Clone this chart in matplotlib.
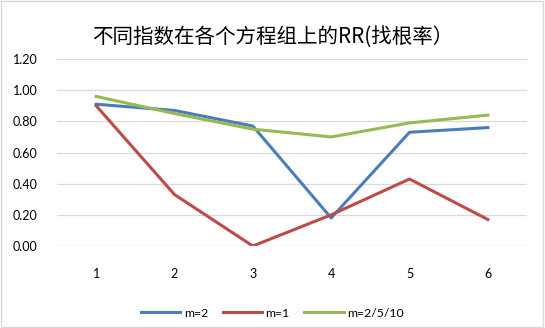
import numpy as np
import matplotlib.pyplot as plt
from matplotlib.patches import Rectangle

plt.rcParams['font.family'] = ['Lato', 'Noto Sans CJK SC', 'DejaVu Sans']

# data
systems = [1, 2, 3, 4, 5, 6]
rr_m2 = [0.91, 0.87, 0.77, 0.18, 0.73, 0.76]
rr_m1 = [0.90, 0.33, 0.00, 0.20, 0.43, 0.17]
rr_m2510 = [0.96, 0.85, 0.75, 0.70, 0.79, 0.84]
series_names = ['m=2', 'm=1', 'm=2/5/10']
title = '不同指数在各个方程组上的RR(找根率）'

colors = ['#4A7EBB', '#BE4B48', '#98B954']

fig = plt.figure(figsize=(5.45, 3.28), dpi=100)
ax = fig.add_axes([0.1046, 0.25, 0.8624, 0.57])

for vals, name, c in zip([rr_m2, rr_m1, rr_m2510], series_names, colors):
	ax.plot(systems, vals, color=c, lw=2.2, label=name, solid_joinstyle='round')

ax.set_xlim(0.5, 6.5)
ax.set_ylim(0, 1.2)
ax.set_yticks(np.arange(0, 1.21, 0.2))
ax.set_yticklabels(['%.2f' % v for v in np.arange(0, 1.21, 0.2)])
ax.set_xticks(systems)
ax.tick_params(length=0, labelsize=9, colors='#000000')
ax.tick_params(axis='x', pad=16)
ax.tick_params(axis='y', pad=14)
ax.grid(axis='y', color='#D9D9D9', lw=0.9)
ax.set_axisbelow(True)
for s in ax.spines.values():
	s.set_visible(False)

fig.text(0.5, 0.888, title, ha='center', va='center', fontsize=14.8,
	family=['Noto Sans CJK SC', 'DejaVu Sans'])

ax.legend(loc='center', bbox_to_anchor=(0.5, 0.045), bbox_transform=fig.transFigure,
	ncol=3, frameon=False, fontsize=8.8, handlelength=3.2, columnspacing=1.2, handletextpad=0.3)

fig.patches.append(Rectangle((0.002, 0.003), 0.995, 0.993, transform=fig.transFigure,
	fill=False, edgecolor='#D9D9D9', lw=1))

plt.savefig('out.png', dpi=100)
